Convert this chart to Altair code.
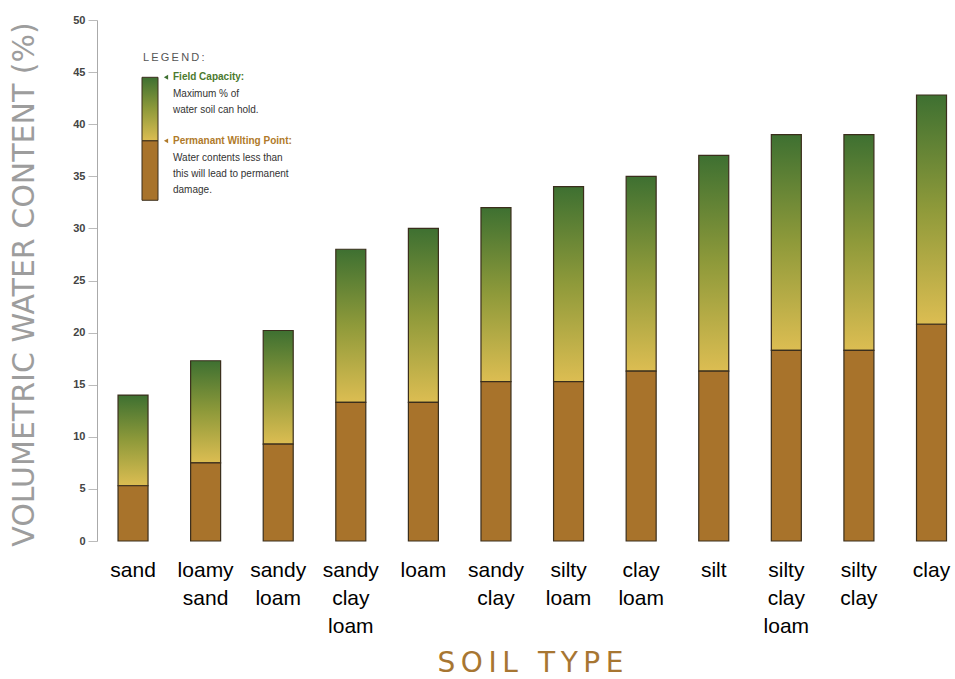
import altair as alt
import pandas as pd

# Soil types and their water-holding limits (volumetric %)
soil_types = ["sand", "loamy sand", "sandy loam", "sandy clay loam", "loam",
              "sandy clay", "silty loam", "clay loam", "silt",
              "silty clay loam", "silty clay", "clay"]
field_capacity = [14, 17.3, 20.2, 28, 30, 32, 34, 35, 37, 39, 39, 42.8]
wilting_point = [5.3, 7.5, 9.3, 13.3, 13.3, 15.3, 15.3, 16.3, 16.3, 18.3, 18.3, 20.8]
y_ticks = [0, 5, 10, 15, 20, 25, 30, 35, 40, 45, 50]

BROWN = "#a8732b"
YELLOW = "#dcbd52"
OLIVE = "#8f9a3a"
GREEN = "#3e7031"
EDGE = "#3a2e1c"
FONT = "Liberation Sans"
THIN = "\u2009"

df = pd.DataFrame({"soil": soil_types, "fc": field_capacity, "pwp": wilting_point})

x_scale = alt.Scale(domain=soil_types, paddingInner=0.5, paddingOuter=0.16, align=0.77)
y_scale = alt.Scale(domain=[0, 50], nice=False)

fc_gradient = alt.Gradient(
    gradient="linear",
    stops=[alt.GradientStop(color=YELLOW, offset=0),
           alt.GradientStop(color=OLIVE, offset=0.5),
           alt.GradientStop(color=GREEN, offset=1)],
    x1=0, x2=0, y1=1, y2=0,
)

x_axis = alt.Axis(
    labelAngle=0, labelAlign="center", labelExpr="split(datum.label, ' ')",
    labelFont=FONT, labelFontSize=21, labelColor="#000000", labelLineHeight=28,
    labelPadding=18, labelBaseline="top", ticks=False, domain=False,
    labelLimit=200,
    titleFont="DejaVu Sans", titleFontSize=28, titleColor="#a77632",
    titleFontWeight="normal", titleX=433, titleY=122,
    titleBaseline="middle", titleAlign="center",
)
y_axis = alt.Axis(
    values=y_ticks, grid=False, labelFont=FONT, labelFontWeight="bold",
    labelFontSize=11, labelColor="#444444", labelPadding=3, tickSize=9,
    tickColor="#bbbbbb", domainColor="#aaaaaa",
    titleFont="DejaVu Sans", titleFontSize=30, titleColor="#9d9d9d",
    titleFontWeight="normal", titleAngle=-90, titleX=-73, titleY=264,
    titleBaseline="middle", titleAlign="center",
)
X_TITLE = THIN.join("SOIL TYPE")
Y_TITLE = "VOLUMETRIC WATER CONTENT (%)"


def y_of(field):
    return alt.Y(field, scale=y_scale, axis=y_axis, title=Y_TITLE)


x_enc = alt.X("soil:N", scale=x_scale, sort=soil_types, axis=x_axis, title=X_TITLE)

# Lower segment: water below the permanent wilting point
lower = alt.Chart(df).transform_calculate(zero="0").mark_bar(
    size=30, color=BROWN, stroke=EDGE, strokeWidth=1.2
).encode(x=x_enc, y=y_of("zero:Q"), y2="pwp:Q")

# Upper segment: plant-available water up to field capacity
upper = alt.Chart(df).mark_bar(
    size=30, color=fc_gradient, stroke=EDGE, strokeWidth=1.2
).encode(x=x_enc, y=y_of("pwp:Q"), y2="fc:Q")

# Hand-drawn legend in the upper-left corner of the plot
legend_seg = pd.DataFrame({"part": ["fc", "pwp"], "top": [44.5, 38.4], "bottom": [38.4, 32.7]})
legend_fc = alt.Chart(legend_seg[legend_seg.part == "fc"]).mark_bar(
    color=fc_gradient, stroke=EDGE, strokeWidth=1
).encode(x=alt.value(45), x2=alt.value(61), y=y_of("top:Q"), y2="bottom:Q")
legend_pwp = alt.Chart(legend_seg[legend_seg.part == "pwp"]).mark_bar(
    color=BROWN, stroke=EDGE, strokeWidth=1
).encode(x=alt.value(45), x2=alt.value(61), y=y_of("top:Q"), y2="bottom:Q")

legend_title = alt.Chart(pd.DataFrame({"t": [THIN.join("LEGEND:")], "y": [46.4]})).mark_text(
    align="left", baseline="middle", font=FONT, fontSize=11, color="#555555"
).encode(x=alt.value(46), y=y_of("y:Q"), text="t:N")

arrows = alt.Chart(pd.DataFrame({"y": [44.5, 38.4], "c": [GREEN, "#b07a2a"]})).mark_point(
    shape="triangle-left", filled=True, size=24, opacity=1
).encode(x=alt.value(69), y=y_of("y:Q"), color=alt.Color("c:N", scale=None))

heads = alt.Chart(pd.DataFrame({
    "t": ["Field Capacity:", "Permanant Wilting Point:"],
    "y": [44.5, 38.4], "c": ["#4c7a2e", "#b07a2a"],
})).mark_text(align="left", baseline="middle", font=FONT, fontSize=10, fontWeight="bold").encode(
    x=alt.value(76), y=y_of("y:Q"), text="t:N", color=alt.Color("c:N", scale=None))

notes = alt.Chart(pd.DataFrame({
    "t": ["Maximum % of", "water soil can hold.", "Water contents less than",
          "this will lead to permanent", "damage."],
    "y": [42.9, 41.4, 36.8, 35.2, 33.7],
})).mark_text(align="left", baseline="middle", font=FONT, fontSize=10, color="#333333").encode(
    x=alt.value(76), y=y_of("y:Q"), text="t:N")

chart = alt.layer(
    upper, lower, legend_fc, legend_pwp, legend_title, arrows, heads, notes
).properties(
    width=858, height=521,
    autosize=alt.AutoSizeParams(type="none"),
    padding={"left": 97, "top": 20, "right": 0, "bottom": 138},
    background="white",
).configure_view(stroke=None)

chart.save("out.html", embed_options={"renderer": "svg", "actions": False})
